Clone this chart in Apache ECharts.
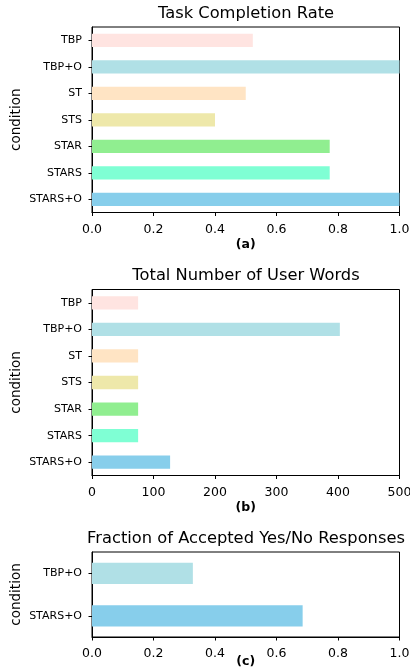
<!DOCTYPE html>
<html>
<head>
<meta charset="utf-8">
<script src="https://cdn.jsdelivr.net/npm/echarts@6/dist/echarts.min.js"></script>
<style>
html,body{margin:0;padding:0;background:#fff;}
#chart{width:410px;height:667px;}
</style>
</head>
<body>
<div id="chart"></div>
<script>
// ---- data ----
var conditions = ['TBP', 'TBP+O', 'ST', 'STS', 'STAR', 'STARS', 'STARS+O'];
var completionRate = [0.523, 1.0, 0.5, 0.4, 0.773, 0.773, 1.0];
var userWords = [75, 403, 75, 75, 75, 75, 127];
var ynConditions = ['TBP+O', 'STARS+O'];
var ynAccepted = [0.328, 0.685];
var fracTicks = ['0.0', '0.2', '0.4', '0.6', '0.8', '1.0'];
var wordTicks = ['0', '100', '200', '300', '400', '500'];
var titles = ['Task Completion Rate', 'Total Number of User Words', 'Fraction of Accepted Yes/No Responses'];
var subLabels = ['(a)', '(b)', '(c)'];

// ---- styles ----
var colorMap = {
  'TBP': '#FFE4E1',
  'TBP+O': '#B0E0E6',
  'ST': '#FFE4C4',
  'STS': '#EEE8AA',
  'STAR': '#90EE90',
  'STARS': '#7FFFD4',
  'STARS+O': '#87CEEB'
};
var FONT = 'DejaVu Sans';

function items(cats, vals) {
  return vals.map(function (v, i) {
    return { value: v, itemStyle: { color: colorMap[cats[i]] } };
  });
}

var grids = [
  { left: 92, right: 10.5, top: 27, height: 185.5 },
  { left: 92, right: 10.5, top: 289.5, height: 186 },
  { left: 92, right: 10.5, top: 552, height: 85 }
];
grids.forEach(function (g) {
  g.show = true; g.borderColor = '#000'; g.borderWidth = 1; g.backgroundColor = 'transparent';
  g.containLabel = false; g.outerBoundsMode = 'none';
});

function xAxisDef(idx, max, interval, ticks) {
  return {
    gridIndex: idx, type: 'value', min: 0, max: max, interval: interval,
    name: subLabels[idx], nameLocation: 'middle', nameGap: idx === 2 ? 18 : 26,
    nameMoveOverlap: false,
    nameTextStyle: { fontFamily: FONT, fontSize: 12.5, fontWeight: 'bold', color: '#000' },
    axisLine: { show: true, onZero: false, lineStyle: { color: '#000', width: 1 } },
    axisTick: { show: true, inside: false, length: 3.5, lineStyle: { color: '#000' } },
    splitLine: { show: false },
    axisLabel: {
      fontFamily: FONT, fontSize: 12.5, color: '#000', margin: 10.5,
      formatter: function (v) {
        var i = Math.round(v / interval);
        return ticks[i] !== undefined ? ticks[i] : '';
      }
    }
  };
}
function yAxisDef(idx, cats) {
  return {
    gridIndex: idx, type: 'category', data: cats, inverse: true,
    name: 'condition', nameLocation: 'middle', nameRotate: 90, nameGap: 69,
    nameMoveOverlap: false,
    nameTextStyle: { fontFamily: FONT, fontSize: 13.5, color: '#000' },
    axisLine: { show: true, lineStyle: { color: '#000', width: 1 } },
    axisTick: { show: true, alignWithLabel: true, length: 3.5, lineStyle: { color: '#000' } },
    splitLine: { show: false },
    axisLabel: { fontFamily: FONT, fontSize: 11, color: '#000', margin: 10 }
  };
}

var option = {
  animation: false,
  backgroundColor: '#fff',
  title: [
    { text: titles[0], left: 246, top: 6, textAlign: 'center' },
    { text: titles[1], left: 246, top: 268, textAlign: 'center' },
    { text: titles[2], left: 246, top: 531, textAlign: 'center' }
  ].map(function (t) {
    t.padding = 0;
    t.textStyle = { fontFamily: FONT, fontSize: 16.3, fontWeight: 'normal', color: '#000' };
    return t;
  }),
  grid: grids,
  xAxis: [
    xAxisDef(0, 1, 0.2, fracTicks),
    xAxisDef(1, 500, 100, wordTicks),
    xAxisDef(2, 1, 0.2, fracTicks)
  ],
  yAxis: [
    yAxisDef(0, conditions),
    yAxisDef(1, conditions),
    yAxisDef(2, ynConditions)
  ],
  series: [
    { type: 'bar', xAxisIndex: 0, yAxisIndex: 0, barWidth: '50%', data: items(conditions, completionRate) },
    { type: 'bar', xAxisIndex: 1, yAxisIndex: 1, barWidth: '50%', data: items(conditions, userWords) },
    { type: 'bar', xAxisIndex: 2, yAxisIndex: 2, barWidth: '50%', data: items(ynConditions, ynAccepted) }
  ]
};

var chart = echarts.init(document.getElementById('chart'), null, { renderer: 'canvas' });
chart.setOption(option);
</script>
</body>
</html>
